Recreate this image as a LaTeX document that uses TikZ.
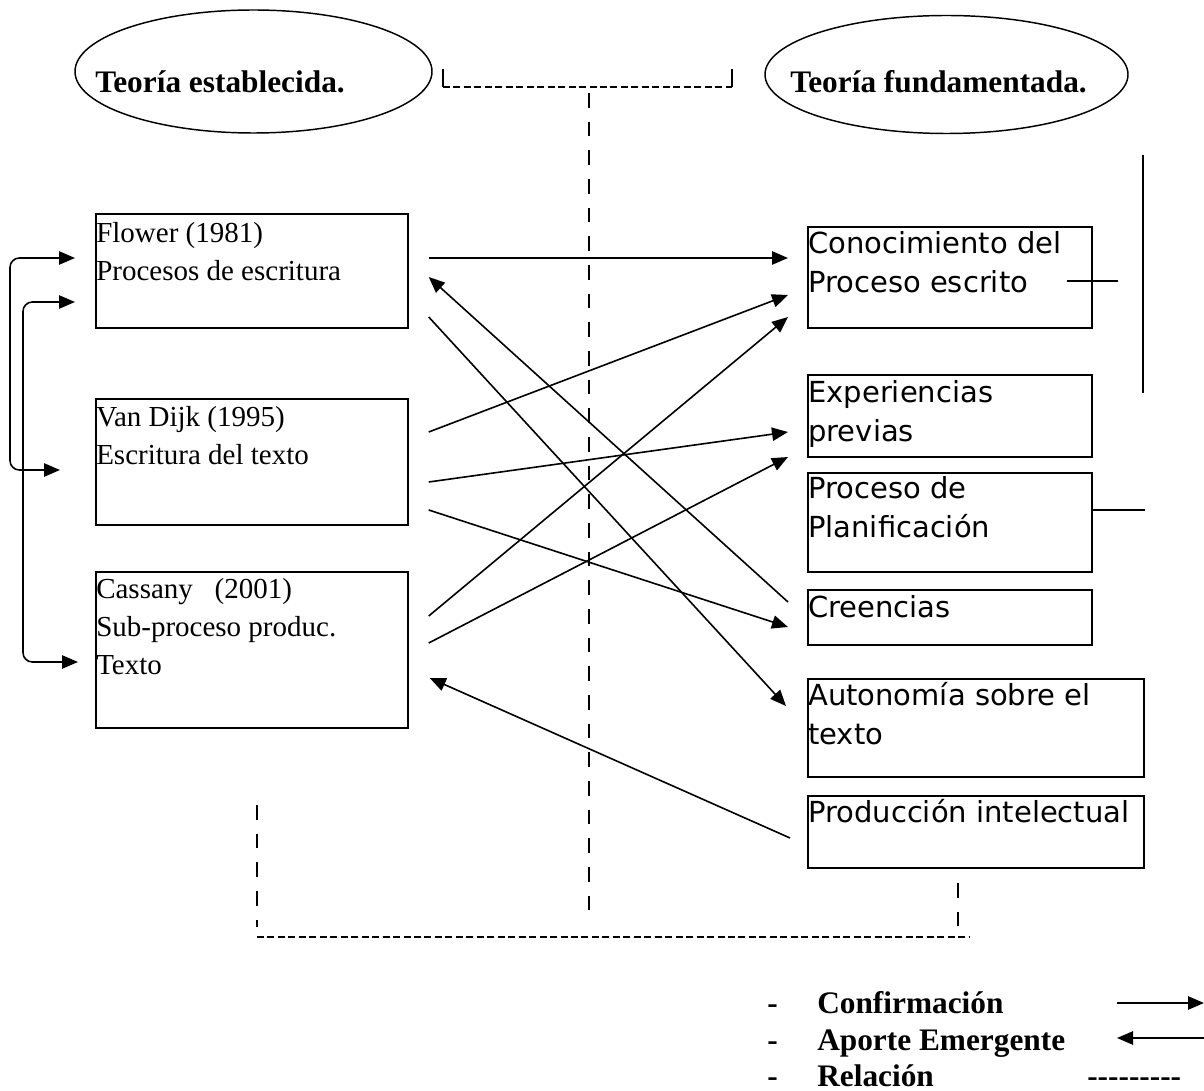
\documentclass[tikz,border=0pt]{standalone}
\usepackage{fontspec}
\setmainfont{Liberation Serif}
\newfontfamily\dvsans{DejaVu Sans}
\usetikzlibrary{arrows.meta,shapes.geometric,calc}
\newcommand\lstrut{\rule{0pt}{21pt}}
\newcommand\rstrut{\rule{0pt}{20.25pt}}
\begin{document}
\begin{tikzpicture}[x=0.75pt,y=-0.75pt,
  box/.style={draw, line width=1.3pt, rectangle, inner sep=0pt, anchor=north west},
  oval/.style={draw, ellipse, line width=1.1pt, inner sep=0pt},
  lefttxt/.style={anchor=north west, inner sep=0pt, align=left, font=\fontsize{21.75pt}{28.5pt}\selectfont},
  righttxt/.style={anchor=north west, inner sep=0pt, align=left, font=\dvsans\fontsize{21.75pt}{29.25pt}\selectfont},
  titletxt/.style={anchor=base west, inner sep=0pt, font=\bfseries\fontsize{23.5pt}{28pt}\selectfont},
  conn/.style={line width=1.2pt, -{Triangle[length=12pt,width=10pt]}},
  backconn/.style={line width=1.2pt, {Triangle[length=12pt,width=10pt]}-},
  lconn/.style={line width=1.2pt, {Triangle[length=12pt,width=10pt]}-{Triangle[length=12pt,width=10pt]}, rounded corners=7pt},
  plainline/.style={line width=1.1pt},
  thinline/.style={line width=0.8pt},
  vdash/.style={line width=1.1pt, dash pattern=on 11pt off 10.5pt},
  hdash/.style={line width=1.5pt, dash pattern=on 5.25pt off 2.6pt},
]
\useasboundingbox (0,0) rectangle (1204,1091);

% ellipses and titles
\node[oval, minimum width=267.75pt, minimum height=92.25pt] (est) at (253.5,71.5) {};
\node[titletxt] (estt) at (95,93) {Teoría establecida.};
\node[oval, minimum width=272.25pt, minimum height=88.5pt] (fun) at (946.5,74.5) {};
\node[titletxt] (funt) at (790,93) {Teoría fundamentada.};

% left boxes
\node[box, minimum width=234pt, minimum height=85.5pt] (flower) at (95,213) {};
\node[lefttxt] (flowert) at (96,214) {\lstrut Flower (1981)\\Procesos de escritura};
\node[box, minimum width=234pt, minimum height=94.5pt] (vandijk) at (95,398) {};
\node[lefttxt] (vandijkt) at (96,398) {\lstrut Van Dijk (1995)\\Escritura del texto};
\node[box, minimum width=234pt, minimum height=117pt] (cassany) at (95,571) {};
\node[lefttxt] (cassanyt) at (96,570) {\lstrut Cassany\ \ \ (2001)\\Sub-proceso produc.\\Texto};

% right boxes
\node[box, minimum width=213pt, minimum height=75.75pt] (conoc) at (807,226) {};
\node[righttxt] (conoct) at (808,226) {\rstrut Conocimiento del\\Proceso escrito};
\node[box, minimum width=213pt, minimum height=61.5pt] (exper) at (807,374) {};
\node[righttxt] (expert) at (808,375) {\rstrut Experiencias\\previas};
\node[box, minimum width=213pt, minimum height=74.25pt] (proceso) at (807,472) {};
\node[righttxt] (procesot) at (808,471) {\rstrut Proceso de\\Planificación};
\node[box, minimum width=213pt, minimum height=41.25pt] (creen) at (807,589) {};
\node[righttxt] (creent) at (808,590) {\rstrut Creencias};
\node[box, minimum width=252pt, minimum height=73.5pt] (auton) at (807,678) {};
\node[righttxt] (autont) at (808,678) {\rstrut Autonomía sobre el\\texto};
\node[box, minimum width=252pt, minimum height=54pt] (produc) at (807,795) {};
\node[righttxt] (produt) at (808,795) {\rstrut Producción intelectual};

% connector end points
\coordinate (fo1) at ($(flower.north east)+(20,45)$);
\coordinate (fi)  at ($(flower.north east)+(20,64)$);
\coordinate (fo2) at ($(flower.north east)+(20,104)$);
\coordinate (vo1) at ($(vandijk.north east)+(20,34)$);
\coordinate (vo2) at ($(vandijk.north east)+(20,84)$);
\coordinate (vo3) at ($(vandijk.north east)+(20,112)$);
\coordinate (co1) at ($(cassany.north east)+(20,45)$);
\coordinate (co2) at ($(cassany.north east)+(20,72)$);
\coordinate (ci)  at ($(cassany.north east)+(21,107)$);
\coordinate (ki1) at ($(conoc.north west)+(-19,32)$);
\coordinate (ki2) at ($(conoc.north west)+(-19,69)$);
\coordinate (ki3) at ($(conoc.north west)+(-19,91)$);
\coordinate (ei1) at ($(exper.north west)+(-19,58)$);
\coordinate (ei2) at ($(exper.north west)+(-19,83)$);
\coordinate (cro) at ($(creen.north west)+(-19,13)$);
\coordinate (cri) at ($(creen.north west)+(-19,38)$);
\coordinate (ai)  at ($(auton.north west)+(-21,28)$);
\coordinate (po)  at ($(produc.north west)+(-17,43)$);

\draw[conn] (fo1) -- (ki1);
\draw[conn] (cro) -- (fi);
\draw[conn] (fo2) -- (ai);
\draw[conn] (vo1) -- (ki2);
\draw[conn] (vo2) -- (ei1);
\draw[conn] (vo3) -- (cri);
\draw[conn] (co1) -- (ki3);
\draw[conn] (co2) -- (ei2);
\draw[conn] (po) -- (ci);

% left looping connectors
\coordinate (lf1) at ($(flower.north west)+(-20,45)$);
\coordinate (lf2) at ($(flower.north west)+(-20,89)$);
\coordinate (lv)  at ($(vandijk.north west)+(-35,72)$);
\coordinate (lc)  at ($(cassany.north west)+(-17,91)$);
\coordinate (railA) at (10,0);
\coordinate (railB) at (23,0);
\draw[lconn] (lv) -| (railA |- lf1) -- (lf1);
\draw[lconn] (lc) -| (railB |- lf2) -- (lf2);

% right side lines
\coordinate (rv1) at (1143,155);
\coordinate (rv2) at (1143,393);
\draw[plainline] (rv1) -- (rv2);
\coordinate (rh1) at (1067,281);
\coordinate (rh2) at (1118,281);
\draw[plainline] (rh1) -- (rh2);
\coordinate (rp1) at ($(proceso.north east)+(0,38)$);
\coordinate (rp2) at ($(proceso.north east)+(52,38)$);
\draw[plainline] (rp1) -- (rp2);

% relation brackets (dashed)
\coordinate (bt1) at (443,69);
\coordinate (bt2) at (443,87);
\coordinate (bt3) at (732,87);
\coordinate (bt4) at (732,69);
\draw[thinline] (bt1) -- (bt2);
\draw[hdash] (bt2) -- (bt3);
\draw[thinline] (bt3) -- (bt4);
\coordinate (mc1) at (589,93);
\coordinate (mc2) at (589,922);
\draw[vdash] (mc1) -- (mc2);
\coordinate (bl1) at (257,805);
\coordinate (bl2) at (257,927);
\draw[vdash] (bl1) -- (bl2);
\coordinate (bh1) at (257,937);
\coordinate (bh2) at (969,937);
\draw[hdash] (bh1) -- (bh2);
\coordinate (br1) at (958,883);
\coordinate (br2) at (958,927);
\draw[vdash] (br1) -- (br2);

% legend
\node[titletxt] (d1) at (767,1013) {-};
\node[titletxt] (d2) at (767,1050) {-};
\node[titletxt] (d3) at (767,1086) {-};
\node[titletxt] (lg1) at (817,1013) {Confirmación};
\node[titletxt] (lg2) at (817,1050) {Aporte Emergente};
\node[titletxt] (lg3) at (817,1086) {Relación};
\coordinate (la1) at (1117,1003);
\coordinate (la2) at (1204,1003);
\draw[conn] (la1) -- (la2);
\coordinate (lb1) at (1117,1038);
\coordinate (lb2) at (1204,1038);
\draw[backconn] (lb1) -- (lb2);
\node[titletxt] (lg3d) at (1087,1086) {-{}-{}-{}-{}-{}-{}-{}-{}-};
\end{tikzpicture}
\end{document}
